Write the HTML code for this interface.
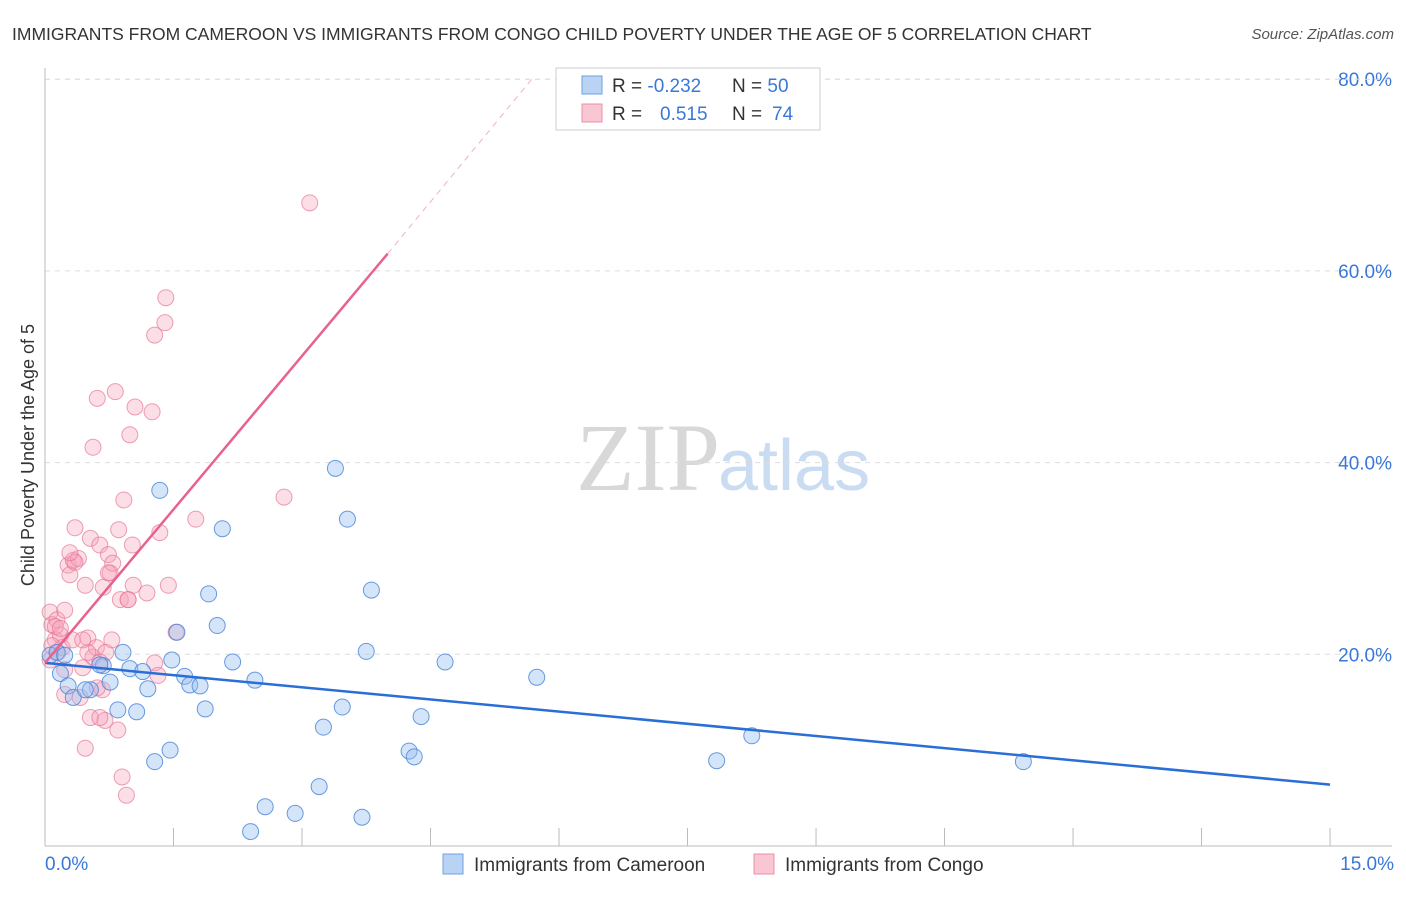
<!DOCTYPE html>
<html><head><meta charset="utf-8"><style>
body{margin:0;background:#fff;font-family:"Liberation Sans",sans-serif;}
svg text{font-family:"Liberation Sans",sans-serif;}
</style></head><body>
<svg id="chart" width="1406" height="892" xmlns="http://www.w3.org/2000/svg">
<text x="12" y="40" font-size="17.5" fill="#333">IMMIGRANTS FROM CAMEROON VS IMMIGRANTS FROM CONGO CHILD POVERTY UNDER THE AGE OF 5 CORRELATION CHART</text>
<text x="1394" y="39" font-size="15" fill="#555" font-style="italic" text-anchor="end">Source: ZipAtlas.com</text>
<text x="720" y="490" font-size="96" fill="#d8d8d8" text-anchor="end" font-family="Liberation Serif" style="font-family:'Liberation Serif',serif">ZIP</text>
<text x="718" y="490" font-size="72" fill="#c9dcf2">atlas</text>
<g id="grid"></g><g id="axes"></g><g id="pts"></g><g id="lines"></g>
<text transform="translate(34,455) rotate(-90)" font-size="18" fill="#333" text-anchor="middle">Child Poverty Under the Age of 5</text>
<g>
<rect x="556" y="68" width="264" height="62" fill="#fff" stroke="#ccc"/>
<rect x="582" y="76" width="20" height="18" fill="#b8d3f3" stroke="#6fa0e0"/>
<rect x="582" y="104" width="20" height="18" fill="#f9c6d3" stroke="#ea90a8"/>
<text x="612" y="92" font-size="19" fill="#333">R = <tspan fill="#3a78d8">-0.232</tspan><tspan x="732">N = </tspan><tspan fill="#3a78d8">50</tspan></text>
<text x="612" y="120" font-size="19" fill="#333">R = <tspan x="660" fill="#3a78d8">0.515</tspan><tspan x="732">N = </tspan><tspan x="772" fill="#3a78d8">74</tspan></text>
</g>
<g>
<rect x="443" y="854" width="20" height="20" fill="#b8d3f3" stroke="#6fa0e0"/>
<text x="474" y="871" font-size="19" fill="#333">Immigrants from Cameroon</text>
<rect x="754" y="854" width="20" height="20" fill="#f9c6d3" stroke="#ea90a8"/>
<text x="785" y="871" font-size="19" fill="#333">Immigrants from Congo</text>
</g>
</svg>
<script>
const yTicks=[20,40,60,80];
const yTickLabels=["20.0%","40.0%","60.0%","80.0%"];
const xTickLabels=["0.0%","15.0%"];
const blueX=[0.06,0.14,0.18,0.27,0.33,0.53,0.68,0.76,0.85,0.91,0.99,1.07,1.14,1.20,1.34,1.28,1.46,1.48,1.54,1.63,1.69,1.81,1.87,1.91,2.01,2.07,2.19,2.40,2.45,2.57,2.92,3.20,3.25,3.39,3.47,3.53,3.70,3.75,3.81,4.25,4.31,4.39,4.67,5.74,7.84,8.25,11.42,0.64,0.47,0.23];
const blueY=[19.9,20.2,18.0,16.7,15.5,16.3,18.8,17.1,14.2,20.2,18.5,14.0,18.2,16.4,37.1,8.8,10.0,19.4,22.3,17.7,16.8,16.7,14.3,26.3,23.0,33.1,19.2,1.5,17.3,4.1,3.4,6.2,12.4,39.4,14.5,34.1,3.0,20.3,26.7,9.9,9.3,13.5,19.2,17.6,8.9,11.5,8.8,18.9,16.3,19.9];
const pinkX=[0.06,0.08,0.12,0.14,0.18,0.20,0.23,0.23,0.27,0.29,0.32,0.35,0.33,0.39,0.41,0.44,0.47,0.47,0.50,0.53,0.53,0.56,0.60,0.61,0.64,0.67,0.68,0.70,0.71,0.74,0.76,0.78,0.79,0.82,0.85,0.86,0.88,0.90,0.92,0.95,0.97,0.99,1.02,1.03,1.05,1.19,1.25,1.28,1.28,1.32,1.34,1.40,1.41,1.44,1.53,1.76,2.79,3.09,0.56,0.35,0.15,0.06,0.12,0.50,0.23,0.64,0.29,0.64,0.44,0.74,0.61,0.18,0.08,0.97];
const pinkY=[24.4,23.1,21.5,23.6,22.0,20.7,24.6,15.8,29.3,28.3,21.5,33.2,29.8,30.0,15.5,18.6,27.2,10.2,21.7,32.1,13.4,19.7,20.7,46.7,31.4,16.3,27.0,13.1,20.2,30.4,28.5,21.5,29.5,47.4,12.1,33.0,25.7,7.2,36.1,5.3,25.7,42.9,31.4,27.2,45.8,26.4,45.3,53.3,19.1,17.8,32.7,54.6,57.2,27.2,22.3,34.1,36.4,67.1,41.6,29.6,20.2,19.4,22.9,20.2,18.4,19.2,30.6,13.4,21.5,28.5,16.5,22.7,20.9,25.7];
const blueTrend=[[0,19.1],[15,6.4]];
const pinkTrend=[[0,19.1],[4.0,61.8]];
const pinkDash=[[4.0,61.8],[5.7,80.2]];
const X=v=>45+v*85.67, Y=v=>846-v*9.585;
const NS="http://www.w3.org/2000/svg";
function mk(tag,attrs,parent){const e=document.createElementNS(NS,tag);for(const k in attrs)e.setAttribute(k,attrs[k]);document.getElementById(parent).appendChild(e);return e;}
yTicks.forEach((t,i)=>{
 const g=mk('line',{x1:45,x2:1392,y1:Y(t),y2:Y(t),stroke:'#ddd','stroke-dasharray':'5,5'},'grid');
 
 
 const l=mk('text',{x:1392,y:Y(t)+7,'font-size':19,fill:'#3a78d8','text-anchor':'end'},'grid');
 l.textContent=yTickLabels[i];
 
 
});
const tl=mk('line',{x1:45,x2:1392,y1:Y(80)+0,y2:Y(80),stroke:'#ddd','stroke-dasharray':'5,5'},'grid');
const ax=mk('line',{x1:45,x2:45,y1:68,y2:846,stroke:'#bbb'},'axes');


const bx=mk('line',{x1:45,x2:1392,y1:846,y2:846,stroke:'#bbb'},'axes');


for(let i=0;i<=10;i++){const t=mk('line',{x1:X(i*1.5),x2:X(i*1.5),y1:828,y2:846,stroke:'#bbb'},'axes');
 
 }
const x0=mk('text',{x:45,y:870,'font-size':19,fill:'#3a78d8'},'axes');x0.textContent=xTickLabels[0];


const x1=mk('text',{x:1394,y:870,'font-size':19,fill:'#3a78d8','text-anchor':'end'},'axes');x1.textContent=xTickLabels[1];


pinkX.forEach((v,i)=>{const c=mk('circle',{cx:X(v),cy:Y(pinkY[i]),r:8,fill:'rgba(245,160,185,0.35)',stroke:'rgba(230,120,150,0.7)','stroke-width':1},'pts');
 
 });
blueX.forEach((v,i)=>{const c=mk('circle',{cx:X(v),cy:Y(blueY[i]),r:8,fill:'rgba(150,190,240,0.4)',stroke:'rgba(70,130,215,0.8)','stroke-width':1},'pts');
 
 });
const bl=mk('line',{x1:X(blueTrend[0][0]),y1:Y(blueTrend[0][1]),x2:X(blueTrend[1][0]),y2:Y(blueTrend[1][1]),stroke:'#2a6fd6','stroke-width':2.5},'lines');


const pl=mk('line',{x1:X(pinkTrend[0][0]),y1:Y(pinkTrend[0][1]),x2:X(pinkTrend[1][0]),y2:Y(pinkTrend[1][1]),stroke:'#e8628f','stroke-width':2.5},'lines');


const pd=mk('line',{x1:X(pinkDash[0][0]),y1:Y(pinkDash[0][1]),x2:X(pinkDash[1][0]),y2:Y(pinkDash[1][1]),stroke:'#f0b0c4','stroke-width':1,'stroke-dasharray':'6,5'},'lines');


</script>
</body></html>
